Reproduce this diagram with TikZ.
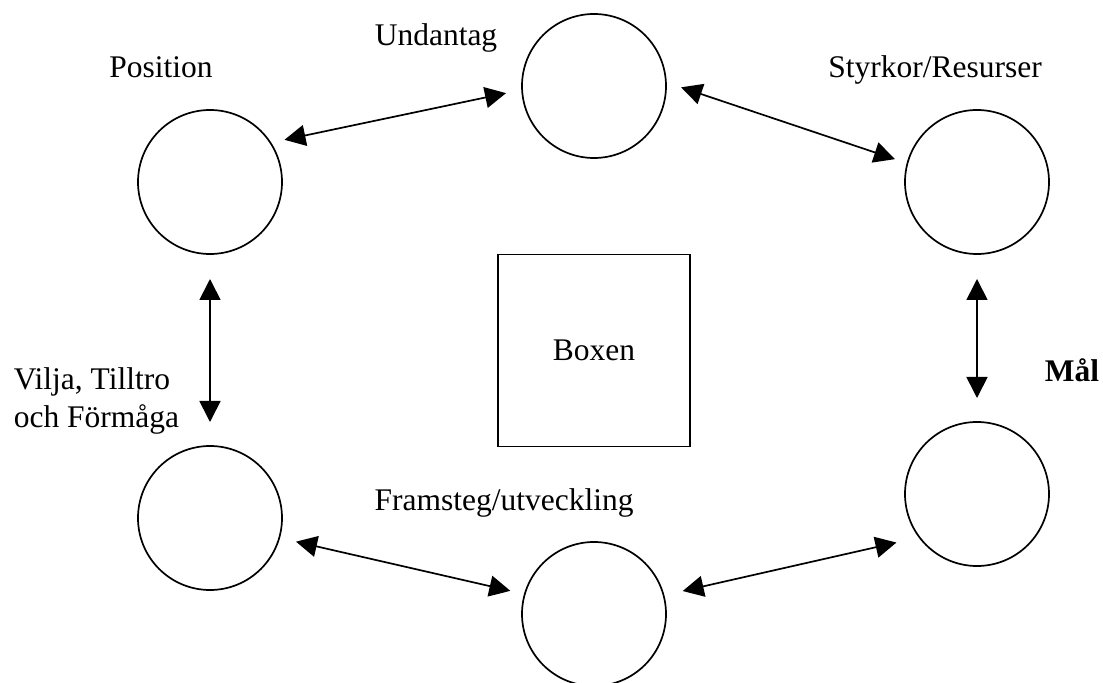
\documentclass[tikz,border=0pt]{standalone}
\usepackage{fontspec}
\setmainfont{Liberation Serif}
\usetikzlibrary{arrows.meta,positioning}

\begin{document}
\begin{tikzpicture}[<->, >={Triangle[length=10.5pt,width=10.5pt]}, x=0.5pt, y=-0.5pt, line width=0.85pt, font=\fontsize{15.75}{19}\selectfont]
\tikzstyle{ring}=[circle,draw=black,minimum size=72pt,inner sep=0pt,outer sep=0pt]
\tikzstyle{lbl}=[anchor=base,inner sep=0pt]
\useasboundingbox (0,0) rectangle (1103,683);
\node[ring]    (P) at (210,182)  {};
\node[ring]    (U) at (594,86)   {};
\node[ring]    (S) at (977,182)  {};
\node[ring]    (M) at (977,494)  {};
\node[ring]    (F) at (594,614)  {};
\node[ring]    (V) at (210,518)  {};
\node[draw,minimum size=96pt,inner sep=0pt] (B) at (594,350.5) {Boxen};
% labels
\node[lbl]     (tP) at (161,78)  {Position};
\node[lbl]     (tU) at (436,46)  {Undantag};
\node[lbl]     (tS) at (935,78)  {Styrkor/Resurser};
\node[lbl]     (tF) at (504,511) {Framsteg/utveckling};
\node[lbl,anchor=base west] (tM) at (1044,382) {\textbf{Mål}};
\node[anchor=west,align=left,inner sep=0pt] (tV) at (13,401) {Vilja, Tilltro\\och Förmåga};
\path
(P.33)    edge[shorten <=7.2pt, shorten >=8.2pt]   (U.183)
(U.3)     edge[shorten <=8pt, shorten >=6.6pt]     (S.165)
(P.south) edge[shorten <=12.5pt, shorten >=12pt]   (V.north)
(S.south) edge[shorten <=12.5pt, shorten >=12pt]   (M.north)
(V.344)   edge[shorten <=8.6pt, shorten >=7.4pt]   (F.164)
(F.15)    edge[shorten <=9.8pt, shorten >=11.8pt]  (M.217);
\end{tikzpicture}
\end{document}
